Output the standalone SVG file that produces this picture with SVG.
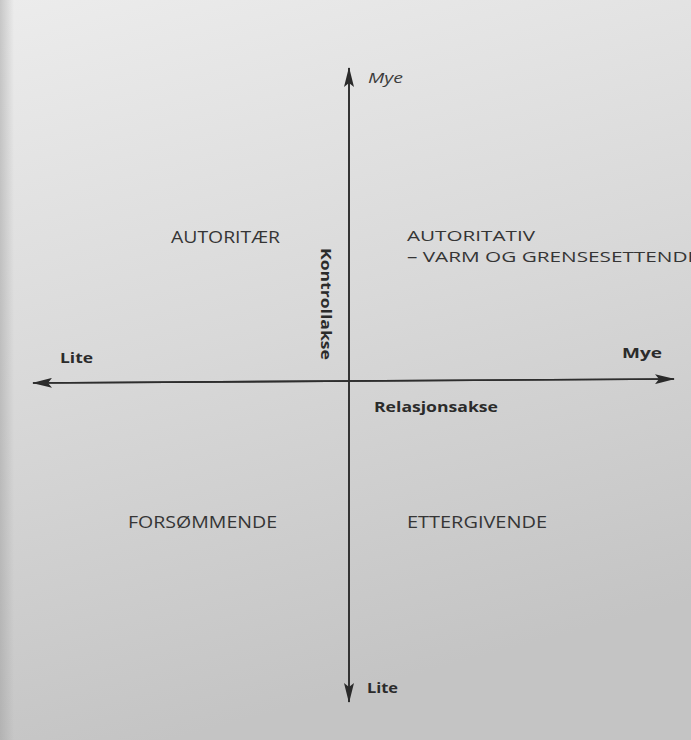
<svg xmlns="http://www.w3.org/2000/svg" width="691" height="740" viewBox="0 0 691 740">
  <defs>
    <linearGradient id="paper" x1="0" y1="0" x2="0.25" y2="1">
      <stop offset="0" stop-color="#ececec"/>
      <stop offset="0.5" stop-color="#d9d9d9"/>
      <stop offset="1" stop-color="#c4c4c4"/>
    </linearGradient>
    <linearGradient id="edge" x1="0" y1="0" x2="1" y2="0">
      <stop offset="0" stop-color="#9a9a9a" stop-opacity="0.45"/>
      <stop offset="1" stop-color="#9a9a9a" stop-opacity="0"/>
    </linearGradient>
    <marker id="head" viewBox="0 0 20 10" refX="19" refY="5" markerWidth="20" markerHeight="10" markerUnits="userSpaceOnUse" orient="auto">
      <path d="M0,0 L20,5 L0,10 L4,5 Z" fill="#2a2a2a"/>
    </marker>
    <style>
      .q { font-family: "Open Sans", "Noto Sans", sans-serif; font-size: 16px; fill: #353535; }
      .q2 { font-family: "Open Sans", "Noto Sans", sans-serif; font-size: 15px; fill: #353535; }
      .b { font-family: "Open Sans", "Noto Sans", sans-serif; font-size: 14.5px; font-weight: bold; fill: #2b2b2b; }
      .i { font-family: "Open Sans", "Noto Sans", sans-serif; font-size: 15px; font-style: italic; fill: #3d3d3d; }
      .axis { stroke: #2e2e2e; stroke-width: 1.6; fill: none; }
    </style>
  </defs>
  <rect width="691" height="740" fill="url(#paper)"/>
  <rect width="14" height="740" fill="url(#edge)"/>

  <g id="connectors">
    <line class="axis" x1="349" y1="702" x2="349" y2="68" marker-end="url(#head)"/>
    <line class="axis" x1="349" y1="68" x2="349" y2="702" marker-end="url(#head)"/>
    <line class="axis" x1="674" y1="379" x2="33" y2="383" marker-end="url(#head)"/>
    <line class="axis" x1="33" y1="383" x2="674" y2="379" marker-end="url(#head)"/>
  </g>

  <g id="axis-labels">
    <text class="i" x="368" y="83" textLength="35" lengthAdjust="spacingAndGlyphs">Mye</text>
    <text class="b" x="367" y="693" textLength="31" lengthAdjust="spacingAndGlyphs">Lite</text>
    <text class="b" x="60" y="363" textLength="33" lengthAdjust="spacingAndGlyphs">Lite</text>
    <text class="b" x="622" y="358" textLength="40" lengthAdjust="spacingAndGlyphs">Mye</text>
    <text class="b" x="374" y="412" textLength="124" lengthAdjust="spacingAndGlyphs">Relasjonsakse</text>
    <text class="b" transform="translate(321,248) rotate(90)" x="0" y="0" textLength="112" lengthAdjust="spacingAndGlyphs">Kontrollakse</text>
  </g>

  <g id="autoritaer">
    <text class="q" x="171" y="243" textLength="109" lengthAdjust="spacingAndGlyphs">AUTORITÆR</text>
  </g>
  <g id="autoritativ">
    <text class="q2" x="407" y="241" textLength="128" lengthAdjust="spacingAndGlyphs">AUTORITATIV</text>
    <text class="q2" x="407" y="262" textLength="292" lengthAdjust="spacingAndGlyphs">– VARM OG GRENSESETTENDE</text>
  </g>
  <g id="forsommende">
    <text class="q" x="128" y="528" textLength="149" lengthAdjust="spacingAndGlyphs">FORSØMMENDE</text>
  </g>
  <g id="ettergivende">
    <text class="q" x="407" y="528" textLength="140" lengthAdjust="spacingAndGlyphs">ETTERGIVENDE</text>
  </g>
</svg>
